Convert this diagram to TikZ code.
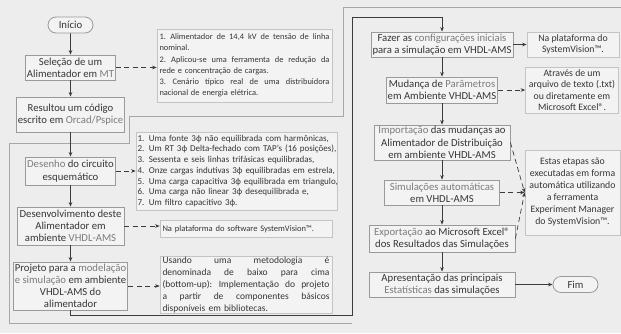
\documentclass[tikz,border=0pt]{standalone}
\usepackage{fontspec}
\setmainfont{Carlito}
\usetikzlibrary{arrows.meta,shapes.misc}
\definecolor{bgc}{HTML}{EDEDED}
\definecolor{boxfill}{HTML}{F3F3F3}
\definecolor{boxline}{HTML}{9A9A9A}
\definecolor{noteline}{HTML}{C4C4C4}
\definecolor{txt}{HTML}{363636}
\definecolor{lightword}{HTML}{7C7C7C}
\definecolor{flow}{HTML}{3C3C3C}
\definecolor{outl}{HTML}{A8A8A8}
\newcommand\gw[1]{\textcolor{lightword}{#1}}
\newcommand\jl[2]{\leavevmode\hbox to #1{\spaceskip=0.25em plus 1fil\relax\xspaceskip=0.3em plus 1fil\relax #2}}
\newcommand\nl[1]{\leavevmode\hbox{#1}}
\tikzset{
  box/.style={draw=boxline, fill=boxfill, line width=0.8pt, inner xsep=1.5pt, inner ysep=1pt,
    align=center, text=txt, font=\fontsize{10.7}{12.3}\selectfont},
  note/.style={draw=noteline, fill=boxfill, line width=0.7pt, inner xsep=2.5pt, inner ysep=1pt,
    align=left, text=txt},
  rnote/.style={draw=noteline, fill=boxfill, line width=0.7pt, inner xsep=1.5pt, inner ysep=1pt,
    align=center, text=txt, font=\fontsize{9.8}{11.4}\selectfont},
  term/.style={rounded rectangle, draw=boxline, fill=boxfill, line width=0.8pt,
    minimum width=47pt, minimum height=16pt, inner sep=1pt, text=txt, font=\fontsize{10.7}{12}\selectfont},
  arr/.style={draw=flow, line width=0.7pt, -{Stealth[length=4.5pt,width=3.6pt]}},
  darr/.style={arr, dash pattern=on 5pt off 3.5pt},
}
\begin{document}
\begin{tikzpicture}[x=1pt,y=-1pt]
\useasboundingbox (0,0) rectangle (621,333);
\fill[bgc] (0,0) rectangle (621,333);
% outline
\draw[outl, line width=0.9pt] (352,323) -- (9,323) -- (9,143) -- (129,143) -- (129,116) -- (343,116) -- (343,7) -- (621,7);
% left column
\node[term] (ini) at (70.5,25) {Início};
\node[box, minimum width=90pt, minimum height=25pt] (sel) at (70.5,67.5) {Seleção de um\\Alimentador em \gw{MT}};
\node[box, minimum width=105pt, minimum height=35pt] (res) at (70.5,114.5) {Resultou um código\\escrito em \gw{Orcad/Pspice}};
\node[box, minimum width=90pt, minimum height=28pt] (des) at (70.5,171) {\gw{Desenho} do circuito\\esquemático};
\node[box, minimum width=107pt, minimum height=38pt] (dev) at (70.5,226) {Desenvolvimento deste\\Alimentador em\\ambiente \gw{VHDL-AMS}};
\node[box, minimum width=111pt, minimum height=48pt, font=\fontsize{10.7}{11.8}\selectfont] (proj) at (70.5,286) {Projeto para a \gw{modelação}\\\gw{e simulação} em ambiente\\VHDL-AMS do\\alimentador};
% notes left
\node[note, text width=170pt, minimum height=73pt, font=\fontsize{8.4}{11.3}\selectfont] (n1) at (244.5,65.5)
 {\jl{170pt}{1. Alimentador de 14,4 kV de tensão de linha}\\nominal.\\\jl{170pt}{2. Aplicou-se uma ferramenta de redução da}\\rede e concentração de cargas.\\\jl{170pt}{3. Cenário típico real de uma distribuidora}\\nacional de energia elétrica.};
\node[note, inner xsep=1.5pt, text width=198pt, minimum height=78pt, font=\fontsize{9}{10.7}\selectfont] (n2) at (236.5,171)
 {\nl{1. Uma fonte 3ф não equilibrada com harmônicas,}\\\nl{2. Um RT 3ф Delta-fechado com TAP's (16 posições),}\\\nl{3. Sessenta e seis linhas trifásicas equilibradas,}\\\nl{4. Onze cargas indutivas 3ф equilibradas em estrela,}\\\nl{5. Uma carga capacitiva 3ф equilibrada em triangulo,}\\\nl{6. Uma carga não linear 3ф desequilibrada e,}\\\nl{7. Um filtro capacitivo 3ф.}};
\node[note, text width=167pt, minimum height=17pt, font=\fontsize{8.5}{10}\selectfont] (n3) at (246,229)
 {Na plataforma do software SystemVision™.};
\node[note, text width=167pt, minimum height=56pt, font=\fontsize{9.5}{11.8}\selectfont] (n4) at (246,285)
 {\jl{167pt}{Usando uma metodologia é}\\\jl{167pt}{denominada de baixo para cima}\\\jl{167pt}{(bottom-up): Implementação do projeto}\\\jl{167pt}{a partir de componentes básicos}\\disponíveis em bibliotecas.};
% right column
\node[box, minimum width=138pt, minimum height=25pt] (faz) at (442,44.5) {Fazer as \gw{configurações iniciais}\\para a simulação em VHDL-AMS};
\node[rnote, minimum width=92pt, minimum height=25pt] (np) at (573,44.5) {Na plataforma do\\SystemVision™.};
\node[box, minimum width=108pt, minimum height=26pt] (mud) at (442,90) {Mudança de \gw{Parâmetros}\\em Ambiente VHDL-AMS};
\node[rnote, minimum width=93pt, minimum height=46pt] (atr) at (572,90) {Através de um\\arquivo de texto (.txt)\\ou diretamente em\\Microsoft Excel®.};
\node[box, minimum width=136pt, minimum height=35pt] (imp) at (442,142.5) {\gw{Importação} das mudanças ao\\Alimentador de Distribuição\\em ambiente VHDL-AMS};
\node[box, minimum width=115pt, minimum height=25pt] (sim) at (442,192.5) {\gw{Simulações automáticas}\\em VHDL-AMS};
\node[box, minimum width=146pt, minimum height=27pt] (exp) at (442,238.5) {\gw{Exportação} ao Microsoft Excel®\\dos Resultados das Simulações};
\node[box, minimum width=146pt, minimum height=25pt] (apr) at (442,284.5) {Apresentação das principais\\\gw{Estatísticas} das simulações};
\node[rnote, minimum width=95pt, minimum height=85pt, font=\fontsize{9.8}{12}\selectfont] (est) at (572.5,192.5) {Estas etapas são\\executadas em forma\\automática utilizando\\a ferramenta\\Experiment Manager\\do SystemVision™.};
\node[term] (fim) at (575.5,284.5) {Fim};
% flow arrows left
\draw[arr] (ini) -- (sel);
\draw[arr] (sel) -- (res);
\draw[arr] (res) -- (des);
\draw[arr] (des) -- (dev);
\draw[arr] (dev) -- (proj);
% dashed to notes
\draw[darr] (sel.east) -- (sel.east -| n1.west);
\draw[darr] (des.east) -- (des.east -| n2.west);
\draw[darr] (dev.east) -- (dev.east -| n3.west);
\draw[darr] (proj.east) -- (proj.east -| n4.west);
% loop to right column
\coordinate (c1) at (352,315);
\coordinate (c2) at (352,17);
\draw[arr] (proj.south) |- (c1) -- (c2) -| (faz.north);
% right flow
\draw[arr] (faz) -- (mud);
\draw[arr] (mud) -- (imp);
\draw[arr] (imp) -- (sim);
\draw[arr] (sim) -- (exp);
\draw[arr] (exp) -- (apr);
\draw[arr] (faz.east) -- (np.west);
\draw[darr] (mud.east) -- (atr.west);
\draw[darr] (imp.east) -- (est.west);
\draw[darr] (sim.east) -- (est.west);
\draw[darr] (exp.east) -- (est.west);
\draw[arr] (apr.east) -- (fim.west);
\end{tikzpicture}
\end{document}
